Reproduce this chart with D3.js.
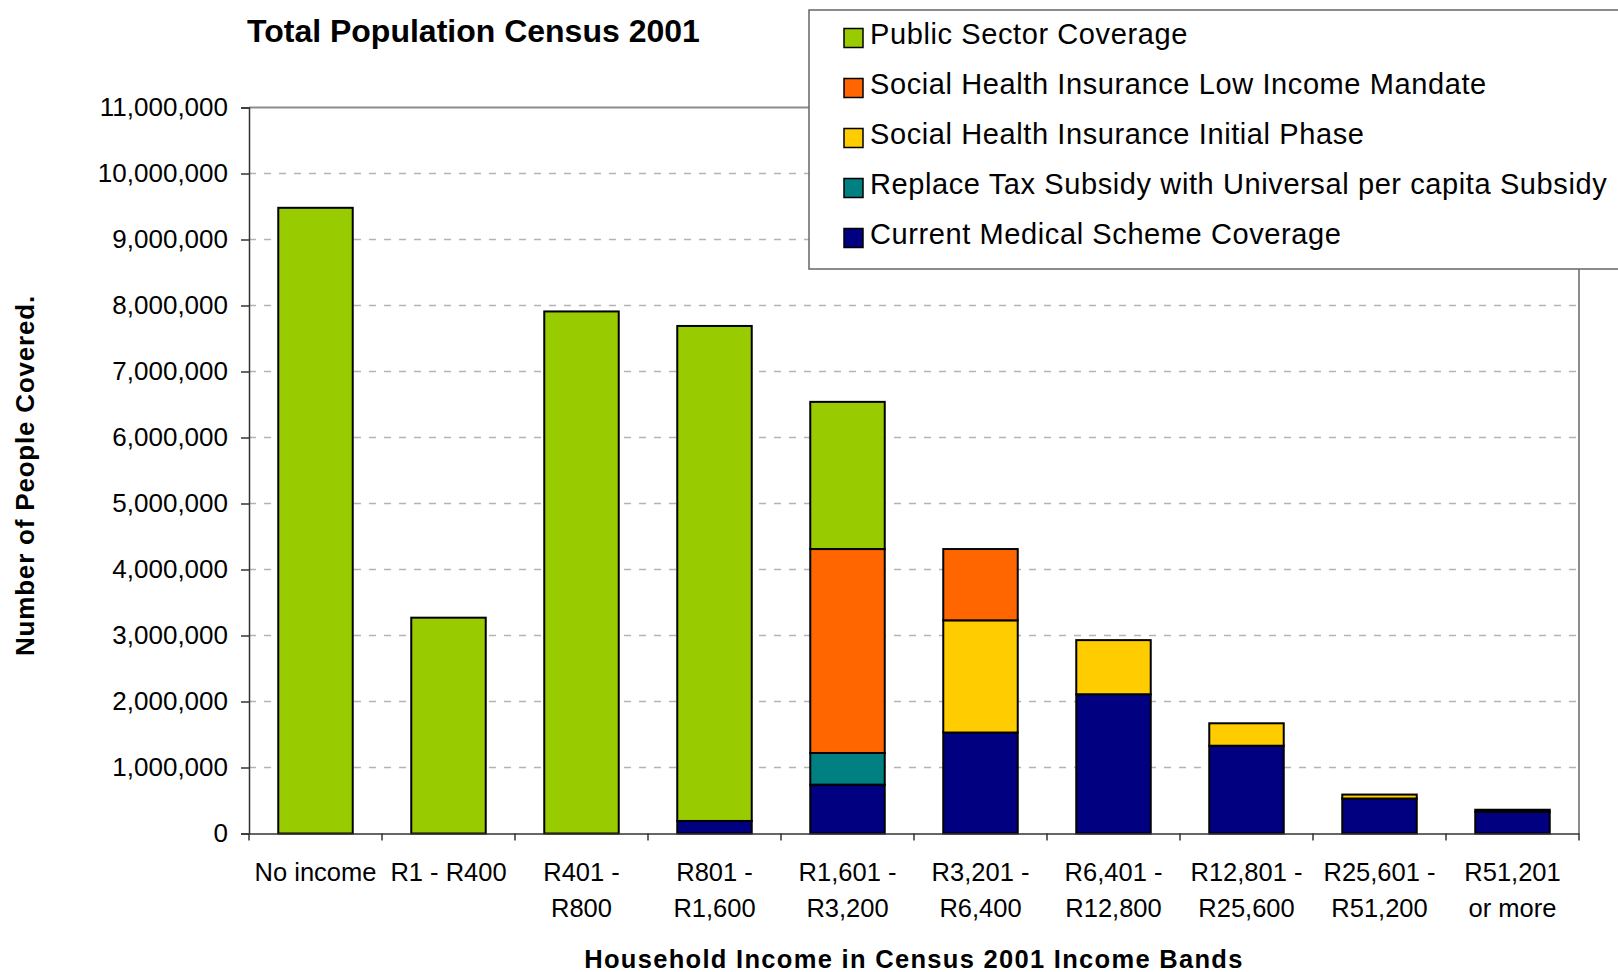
<!DOCTYPE html>
<html>
<head>
<meta charset="utf-8">
<script src="https://cdn.jsdelivr.net/npm/d3@7"></script>
<style>
  html, body { margin: 0; padding: 0; background: #fff; }
  svg { display: block; font-family: "Liberation Sans", Arial, sans-serif; }
</style>
</head>
<body>
<svg id="chart" width="1618" height="972"></svg>
<script>
// Income bands (x categories) and their two-line axis labels
const categories = ["No income", "R1 - R400", "R401 - R800", "R801 - R1,600", "R1,601 - R3,200",
  "R3,201 - R6,400", "R6,401 - R12,800", "R12,801 - R25,600", "R25,601 - R51,200", "R51,201 or more"];
const categoryLines = [["No income"], ["R1 - R400"], ["R401 -", "R800"], ["R801 -", "R1,600"],
  ["R1,601 -", "R3,200"], ["R3,201 -", "R6,400"], ["R6,401 -", "R12,800"], ["R12,801 -", "R25,600"],
  ["R25,601 -", "R51,200"], ["R51,201", "or more"]];

// Number of people covered per band, one array per coverage layer (bottom to top)
const medicalScheme = [0, 0, 0, 190000, 740000, 1530000, 2110000, 1330000, 530000, 330000];
const taxSubsidy    = [0, 0, 0, 0, 480000, 0, 0, 0, 0, 0];
const shiInitial    = [0, 0, 0, 0, 0, 1700000, 820000, 340000, 60000, 30000];
const shiLowIncome  = [0, 0, 0, 0, 3090000, 1080000, 0, 0, 0, 0];
const publicSector  = [9480000, 3270000, 7910000, 7500000, 2230000, 0, 0, 0, 0, 0];

const seriesNames = ["Current Medical Scheme Coverage", "Replace Tax Subsidy with Universal per capita Subsidy",
  "Social Health Insurance Initial Phase", "Social Health Insurance Low Income Mandate", "Public Sector Coverage"];
const seriesValues = [medicalScheme, taxSubsidy, shiInitial, shiLowIncome, publicSector];
const seriesColors = ["#000080", "#008080", "#FFCC00", "#FF6600", "#99CC00"];

const yTicks = d3.range(0, 11000001, 1000000);

const svg = d3.select("#chart");
const plotLeft = 249, plotRight = 1579, plotTop = 107.5, plotBottom = 833.5;

const x = d3.scaleBand().domain(categories).range([plotLeft, plotRight]).paddingInner(0.44).paddingOuter(0.22);
const y = d3.scaleLinear().domain([0, 11000000]).range([plotBottom, plotTop]);

// Gridlines
svg.append("g").selectAll("line").data(yTicks.filter(t => t > 0 && t < 11000000)).join("line")
  .attr("x1", plotLeft).attr("x2", plotRight)
  .attr("y1", d => y(d)).attr("y2", d => y(d))
  .attr("stroke", "#b4b4b4").attr("stroke-width", 1.5).attr("stroke-dasharray", "7,8");

// Plot frame: top and right edges
svg.append("line").attr("x1", plotLeft).attr("x2", plotRight).attr("y1", y(11000000)).attr("y2", y(11000000))
  .attr("stroke", "#8c8c8c").attr("stroke-width", 2);
svg.append("line").attr("x1", plotRight).attr("x2", plotRight).attr("y1", plotTop).attr("y2", plotBottom)
  .attr("stroke", "#8c8c8c").attr("stroke-width", 2);

// Stacked bars
const rows = categories.map((c, i) => {
  const r = { cat: c };
  seriesNames.forEach((s, k) => { r[s] = seriesValues[k][i]; });
  return r;
});
const stacked = d3.stack().keys(seriesNames)(rows);

svg.append("g").selectAll("g").data(stacked).join("g")
  .attr("fill", (d, i) => seriesColors[i])
  .selectAll("rect").data(d => d.filter(p => p[1] - p[0] > 0)).join("rect")
  .attr("x", d => x(d.data.cat))
  .attr("width", x.bandwidth())
  .attr("y", d => y(d[1]))
  .attr("height", d => y(d[0]) - y(d[1]))
  .attr("stroke", "#000").attr("stroke-width", 2);

// Y axis
const yAxis = svg.append("g").attr("transform", `translate(${plotLeft},0)`)
  .call(d3.axisLeft(y).tickValues(yTicks).tickFormat(d3.format(",")).tickSize(8).tickPadding(13));
yAxis.select(".domain").attr("stroke", "#333").attr("stroke-width", 1.5);
yAxis.selectAll(".tick line").attr("stroke", "#333").attr("stroke-width", 1.5);
yAxis.selectAll(".tick text").attr("font-size", 26).attr("fill", "#000")
  .attr("font-family", "'Liberation Sans', Arial, sans-serif");

// X axis: baseline, boundary ticks and multi-line labels
const xAxis = svg.append("g").attr("transform", `translate(0,${plotBottom})`)
  .call(d3.axisBottom(x).tickSize(0).tickFormat(""));
xAxis.select(".domain").attr("stroke", "#333").attr("stroke-width", 1.5);
const gap = x.step() - x.bandwidth();
const boundaries = categories.map(c => x(c) - gap / 2).concat([plotRight]);
xAxis.selectAll("line.boundary").data(boundaries).join("line").attr("class", "boundary")
  .attr("x1", d => d).attr("x2", d => d).attr("y1", 0).attr("y2", 7)
  .attr("stroke", "#333").attr("stroke-width", 1.5);
xAxis.selectAll(".tick text").each(function (d, i) {
  const t = d3.select(this).text(null).attr("y", 0).attr("dy", null)
    .attr("font-size", 25.5).attr("fill", "#000")
    .attr("font-family", "'Liberation Sans', Arial, sans-serif");
  categoryLines[i].forEach((line, j) => {
    t.append("tspan").attr("x", 0).attr("y", 47 + j * 36).text(line);
  });
});

// Titles
svg.append("text").attr("x", 247).attr("y", 42).attr("font-size", 32).attr("font-weight", "bold")
  .text("Total Population Census 2001");
svg.append("text").attr("x", (plotLeft + plotRight) / 2).attr("y", 968).attr("text-anchor", "middle")
  .attr("font-size", 25.5).attr("font-weight", "bold").attr("letter-spacing", 1.3)
  .text("Household Income in Census 2001 Income Bands");
svg.append("text").attr("transform", `translate(34,${(plotTop + plotBottom) / 2 + 5}) rotate(-90)`)
  .attr("text-anchor", "middle").attr("font-size", 26).attr("font-weight", "bold").attr("letter-spacing", 0.8)
  .text("Number of People Covered.");

// Legend
const legend = svg.append("g");
legend.append("rect").attr("x", 809).attr("y", 10).attr("width", 830).attr("height", 259)
  .attr("fill", "#fff").attr("stroke", "#666").attr("stroke-width", 1.5);
const legendOrder = d3.range(seriesNames.length).reverse();
const items = legend.selectAll("g.item").data(legendOrder).join("g").attr("class", "item")
  .attr("transform", (d, i) => `translate(0,${38 + i * 50})`);
items.append("rect").attr("x", 844).attr("y", -9.5).attr("width", 19).attr("height", 19)
  .attr("fill", d => seriesColors[d]).attr("stroke", "#000").attr("stroke-width", 1.5);
items.append("text").attr("x", 870).attr("y", 6).attr("font-size", 29).attr("letter-spacing", 0.6)
  .text(d => seriesNames[d]);
</script>
</body>
</html>
